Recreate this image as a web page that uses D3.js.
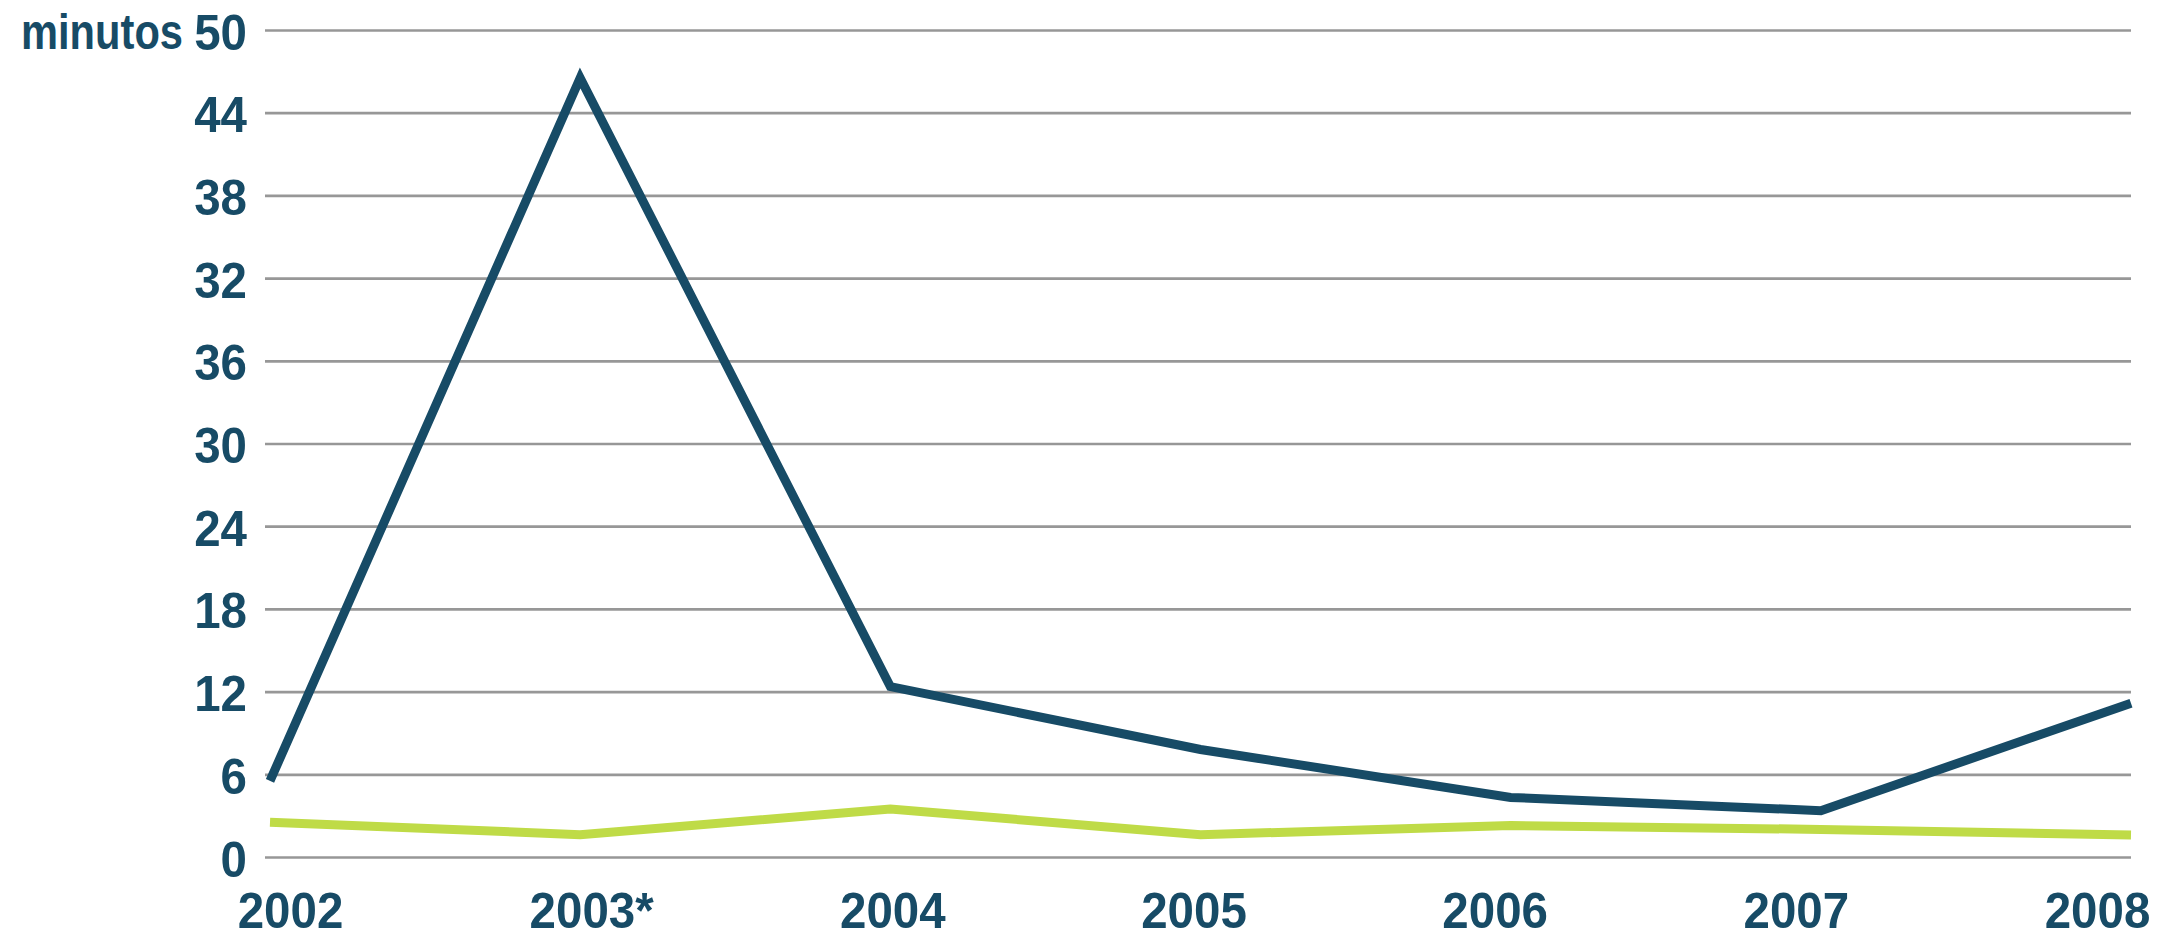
<!DOCTYPE html>
<html>
<head>
<meta charset="utf-8">
<script src="https://cdn.jsdelivr.net/npm/d3@7"></script>
<style>
  body { margin: 0; background: #fff; }
  text {
    font-family: "Liberation Sans", Arial, sans-serif;
    font-weight: bold;
    font-size: 50px;
    fill: #174b66;
  }
</style>
</head>
<body>
<div id="chart"></div>
<script>
// Configuration
const width = 2170;
const height = 936;
const margin = { top: 30, right: 39, bottom: 79, left: 270 };
const gridLeft = 265;
const squeeze = 0.95; // labels in the original are slightly condensed

// Data
const years = ["2002", "2003*", "2004", "2005", "2006", "2007", "2008"];
const darkSeries = [4.6, 47.1, 10.3, 6.5, 3.6, 2.8, 9.3];
const greenSeries = [2.1, 1.35, 2.9, 1.35, 1.9, 1.67, 1.33];
const yTickValues = [0, 5, 10, 15, 20, 25, 30, 35, 40, 45, 50];
const yTickLabels = ["0", "6", "12", "18", "24", "30", "36", "32", "38", "44", "50"];
const yTitle = "minutos";

const svg = d3.select("#chart")
    .append("svg")
    .attr("width", width)
    .attr("height", height);

// Scales
const x = d3.scalePoint()
    .domain(years)
    .range([margin.left, width - margin.right]);

// year labels are spread a bit narrower than the points
const xLabel = d3.scalePoint()
    .domain(years)
    .range([gridLeft + 25, width - margin.right - 34]);

const y = d3.scaleLinear()
    .domain([0, 50])
    .range([height - margin.bottom, margin.top]);

// Gridlines
svg.append("g")
    .attr("transform", `translate(${gridLeft},0)`)
    .call(d3.axisLeft(y).tickValues(yTickValues)
        .tickSize(-(width - margin.right - gridLeft)).tickFormat(""))
    .call(g => g.select(".domain").remove())
    .call(g => g.selectAll("line").attr("stroke", "#979797").attr("stroke-width", 2.7));

// Y labels
svg.append("g")
    .attr("transform", `translate(${gridLeft},0)`)
    .call(d3.axisLeft(y).tickValues(yTickValues).tickSize(0)
        .tickFormat((d, i) => yTickLabels[i]))
    .call(g => g.select(".domain").remove())
    .call(g => g.selectAll("text")
        .attr("x", -18 / squeeze)
        .attr("dy", "0.38em")
        .attr("transform", `scale(${squeeze},1)`)
        .attr("fill", null));

svg.append("text")
    .attr("x", 183)
    .attr("y", 49)
    .attr("text-anchor", "end")
    .attr("textLength", 162)
    .attr("lengthAdjust", "spacingAndGlyphs")
    .text(yTitle);

// X labels
svg.append("g")
    .attr("transform", `translate(0,${height - 8})`)
    .call(d3.axisBottom(xLabel).tickSize(0).tickPadding(0))
    .call(g => g.select(".domain").remove())
    .call(g => g.selectAll("text")
        .attr("y", 0)
        .attr("dy", 0)
        .attr("transform", `scale(${squeeze},1)`)
        .attr("fill", null));

// Lines
const line = d3.line()
    .x((d, i) => x(years[i]))
    .y(d => y(d));

svg.append("path")
    .datum(greenSeries)
    .attr("fill", "none")
    .attr("stroke", "#bfdb47")
    .attr("stroke-width", 9)
    .attr("d", line);

svg.append("path")
    .datum(darkSeries)
    .attr("fill", "none")
    .attr("stroke", "#174b66")
    .attr("stroke-width", 9)
    .attr("stroke-miterlimit", 10)
    .attr("d", line);
</script>
</body>
</html>
